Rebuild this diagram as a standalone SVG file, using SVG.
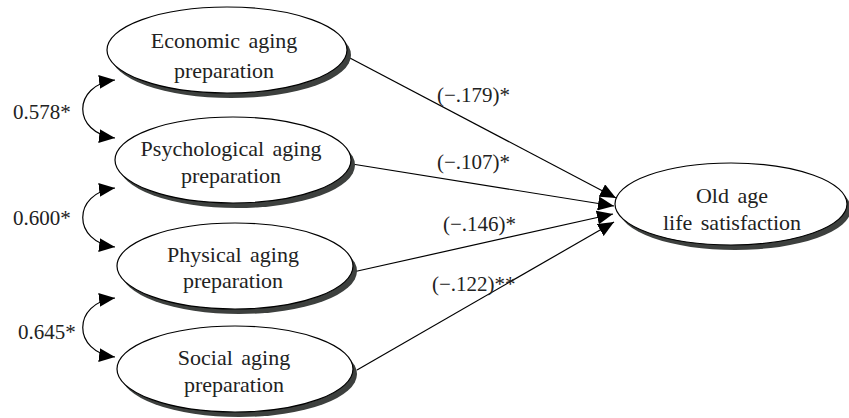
<svg xmlns="http://www.w3.org/2000/svg" width="849" height="418" viewBox="0 0 849 418">
<style>
.bg{fill:#ffffff}
.shadow{fill:#3d403e;stroke:none}
.node{fill:#ffffff;stroke:#000000;stroke-width:1.2}
.lbl{font-family:"Liberation Serif","DejaVu Serif",serif;font-size:22px;fill:#222222;text-anchor:middle;word-spacing:3px}
.num{font-family:"Liberation Serif","DejaVu Serif",serif;font-size:21px;fill:#222222}
.edge{fill:none;stroke:#000000;stroke-width:1.2;marker-end:url(#ah)}
.cov{fill:none;stroke:#000000;stroke-width:1.2;marker-start:url(#ah);marker-end:url(#ah)}
</style>
<defs>
<marker id="ah" markerWidth="16" markerHeight="14" refX="16" refY="7" orient="auto-start-reverse" markerUnits="userSpaceOnUse">
<path d="M0,0 L16,7 L0,14 z" fill="#000000"/>
</marker>
</defs>
<rect class="bg" x="0" y="0" width="849" height="418"/>
<g id="connectors">
<path class="edge" d="M348,57 L616,198"/>
<path class="edge" d="M352,164 L614,206"/>
<path class="edge" d="M353,272 L613,214"/>
<path class="edge" d="M357,370 L614,222"/>
<path class="cov" d="M115,80 C72,85 72,133 115,138"/>
<path class="cov" d="M115,188 C72,193 72,242 115,247"/>
<path class="cov" d="M115,298 C72,303 72,352 115,357"/>
<text class="num" x="437" y="102">(−.179)*</text>
<text class="num" x="437" y="169">(−.107)*</text>
<text class="num" x="443" y="231">(−.146)*</text>
<text class="num" x="432" y="291">(−.122)**</text>
<text class="num" x="13" y="119">0.578*</text>
<text class="num" x="13" y="225">0.600*</text>
<text class="num" x="18" y="339">0.645*</text>
</g>
<g id="economic">
<ellipse class="shadow" cx="231" cy="55" rx="120" ry="43"/>
<ellipse class="node" cx="227" cy="50" rx="120" ry="43"/>
<text class="lbl" x="224" y="48">Economic aging</text>
<text class="lbl" x="224" y="78">preparation</text>
</g>
<g id="psychological">
<ellipse class="shadow" cx="237" cy="165" rx="118" ry="43"/>
<ellipse class="node" cx="233" cy="160" rx="118" ry="43"/>
<text class="lbl" x="231" y="156">Psychological aging</text>
<text class="lbl" x="231" y="183">preparation</text>
</g>
<g id="physical">
<ellipse class="shadow" cx="239" cy="271" rx="118" ry="43"/>
<ellipse class="node" cx="235" cy="266" rx="118" ry="43"/>
<text class="lbl" x="233" y="262">Physical aging</text>
<text class="lbl" x="233" y="288">preparation</text>
</g>
<g id="social">
<ellipse class="shadow" cx="239" cy="374" rx="118" ry="43"/>
<ellipse class="node" cx="235" cy="369" rx="118" ry="43"/>
<text class="lbl" x="234" y="365">Social aging</text>
<text class="lbl" x="234" y="392">preparation</text>
</g>
<g id="oldage">
<ellipse class="shadow" cx="735" cy="209" rx="116" ry="41"/>
<ellipse class="node" cx="731" cy="204" rx="116" ry="41"/>
<text class="lbl" x="732" y="203">Old age</text>
<text class="lbl" x="732" y="230">life satisfaction</text>
</g>
</svg>
